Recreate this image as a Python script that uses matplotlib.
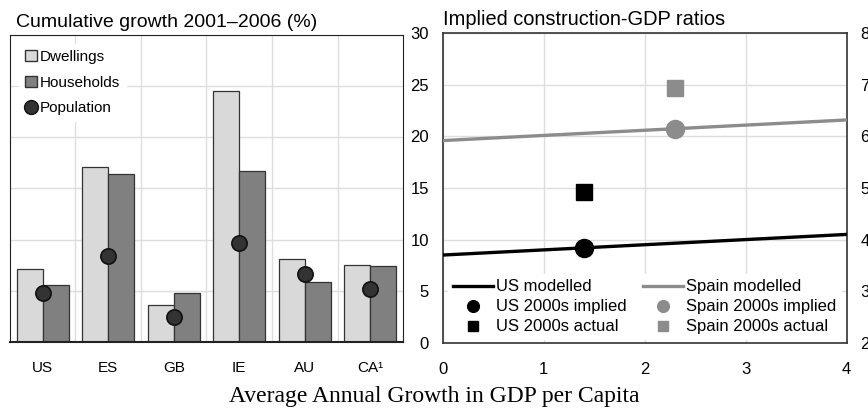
import numpy as np
import matplotlib
matplotlib.use("Agg")
import matplotlib.pyplot as plt
from matplotlib.lines import Line2D
from matplotlib.patches import Patch

plt.rcParams['font.family'] = ['Liberation Sans', 'DejaVu Sans']

# left panel: cumulative growth 2001-2006 (%)
countries = ["US", "ES", "GB", "IE", "AU", "CA¹"]
dwellings = [7.1, 17.1, 3.6, 24.5, 8.1, 7.5]
households = [5.6, 16.4, 4.8, 16.7, 5.9, 7.4]
population = [4.8, 8.4, 2.4, 9.7, 6.6, 5.15]

# right panel: implied construction-GDP ratios
gdp_growth = [0, 1, 2, 3, 4]
us_modelled = [8.5, 9.0, 9.5, 10.0, 10.5]
spain_modelled = [19.6, 20.1, 20.6, 21.1, 21.6]
us_growth, us_implied, us_actual = 1.4, 9.15, 14.6
es_growth, es_implied, es_actual = 2.3, 20.7, 24.7

light = "#d9d9d9"
dark = "#808080"
grid_c = "#dedede"
spain_c = "#8c8c8c"

fig = plt.figure(figsize=(8.68, 4.15), dpi=100)
ax1 = fig.add_axes([0.0115, 0.176, 0.4528, 0.740])
ax2 = fig.add_axes([0.510, 0.1742, 0.4654, 0.7455])

# ---- left panel
x = np.arange(len(countries))
w = 0.4
ax1.bar(x - w/2, dwellings, w, color=light, edgecolor="#333333", linewidth=0.9, zorder=2)
ax1.bar(x + w/2, households, w, color=dark, edgecolor="#333333", linewidth=0.9, zorder=2)
ax1.plot(x, population, "o", ms=11, mfc="#333333", mec="#111111", mew=1.2, zorder=3)
ax1.set_xlim(-0.5, len(countries) - 0.5)
ax1.set_ylim(0, 30)
ax1.set_xticks(x)
ax1.set_xticklabels(countries, fontsize=11)
ax1.set_xticks(x[:-1] + 0.5, minor=True)
ax1.set_yticks(np.arange(0, 31, 5))
ax1.set_yticklabels([])
ax1.tick_params(which="both", length=0)
ax1.tick_params(axis="x", pad=14)
ax1.grid(True, which="minor", axis="x", color=grid_c, lw=1, zorder=0)
ax1.grid(True, which="major", axis="y", color=grid_c, lw=1, zorder=0)
for s in ax1.spines.values():
    s.set_color("#222222")
ax1.spines["bottom"].set_linewidth(1.5)
ax1.set_title("Cumulative growth 2001\u20132006 (%)", loc="left", fontsize=14, pad=6, x=0.015)

h1 = [Patch(facecolor=light, edgecolor="#333333", label="Dwellings"),
      Patch(facecolor=dark, edgecolor="#333333", label="Households"),
      Line2D([], [], ls="", marker="o", ms=10, mfc="#333333", mec="#111111", label="Population")]
leg1 = ax1.legend(handles=h1, loc="upper left", fontsize=11, frameon=True, framealpha=1,
                  edgecolor="white", handlelength=0.75, handleheight=0.75, handletextpad=0.2,
                  labelspacing=0.75, borderaxespad=0.6, fancybox=False)
leg1.set_zorder(5)

# ---- right panel
ax2.plot(gdp_growth, us_modelled, color="black", lw=2.4, label="US modelled", zorder=3)
ax2.plot(us_growth, us_implied, "o", color="black", ms=13, label="US 2000s implied", zorder=4)
ax2.plot(us_growth, us_actual, "s", color="black", ms=11, label="US 2000s actual", zorder=4)
ax2.plot(gdp_growth, spain_modelled, color=spain_c, lw=2.4, label="Spain modelled", zorder=3)
ax2.plot(es_growth, es_implied, "o", color=spain_c, ms=13, label="Spain 2000s implied", zorder=4)
ax2.plot(es_growth, es_actual, "s", color=spain_c, ms=11, label="Spain 2000s actual", zorder=4)
ax2.set_xlim(0, 4)
ax2.set_ylim(0, 30)
ax2.set_xticks(gdp_growth)
ax2.set_yticks(np.arange(0, 31, 5))
ax2.tick_params(length=0, labelsize=12)
ax2.tick_params(axis="x", pad=14)
ax2.tick_params(axis="y", pad=10)
ax2.grid(True, color=grid_c, lw=1, zorder=0)
for s in ax2.spines.values():
    s.set_color("#333333")
    s.set_linewidth(1.2)
ax2.set_title("Implied construction-GDP ratios", loc="left", fontsize=14.4, pad=6)

ax3 = ax2.twinx()
ax3.set_ylim(2, 8)
ax3.set_yticks(np.arange(2, 9, 1))
ax3.tick_params(length=0, labelsize=12, pad=10)
for s in ax3.spines.values():
    s.set_visible(False)

leg2 = ax2.legend(loc="lower left", bbox_to_anchor=(0.005, 0.0, 0.99, 0.3), mode="expand",
                  ncol=2, fontsize=12, frameon=True, framealpha=1, edgecolor="white",
                  fancybox=False, handlelength=2.4, handletextpad=0.2, labelspacing=0.3,
                  borderaxespad=0.2, borderpad=0.3, columnspacing=1.0, markerscale=0.65)
leg2.set_zorder(5)

fig.text(0.5, 0.02, "Average Annual Growth in GDP per Capita", ha="center", va="bottom",
         fontsize=17, family=["Liberation Serif", "DejaVu Serif"])

fig.savefig("out.png", dpi=100)
